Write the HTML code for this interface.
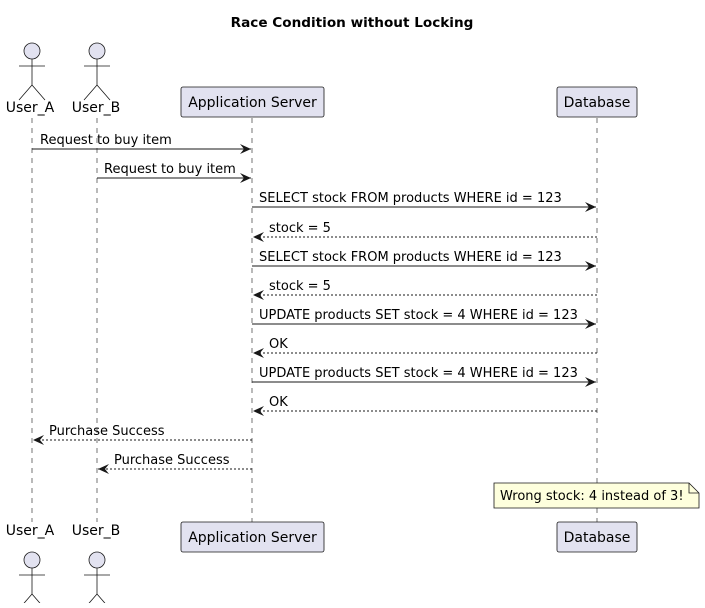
<!DOCTYPE html>
<html><head><style>body{margin:0;background:#fff}svg text{font-family:"DejaVu Sans","Liberation Sans",sans-serif;font-size:13px;fill:#000}</style></head>
<body>
<svg width="705" height="603" xmlns="http://www.w3.org/2000/svg">
<defs>
<marker id="a" markerWidth="12" markerHeight="10" refX="11" refY="5" orient="auto" markerUnits="userSpaceOnUse"><path d="M0,0 L11,5 L0,10 L4,5 Z" fill="#181818"/></marker>
</defs>
<text x="352" y="27" text-anchor="middle" style="font-weight:bold;font-size:13.6px">Race Condition without Locking</text>
<g stroke="#181818" stroke-width="0.6" stroke-dasharray="5,5">
<line x1="32" y1="118" x2="32" y2="522"/>
<line x1="97" y1="118" x2="97" y2="522"/>
<line x1="252" y1="118" x2="252" y2="522"/>
<line x1="597" y1="118" x2="597" y2="522"/>
</g>
<g fill="#E2E2F0" stroke="#181818" stroke-width="0.8">
<rect x="181" y="87" width="143" height="30" rx="2"/>
<rect x="557" y="87" width="80" height="30" rx="2"/>
<rect x="181" y="522" width="143" height="30" rx="2"/>
<rect x="557" y="522" width="80" height="30" rx="2"/>
</g>
<g style="font-size:14px">
<text x="252.5" y="107" text-anchor="middle" style="font-size:14px">Application Server</text>
<text x="597" y="107" text-anchor="middle" style="font-size:14px">Database</text>
<text x="252.5" y="542" text-anchor="middle" style="font-size:14px">Application Server</text>
<text x="597" y="542" text-anchor="middle" style="font-size:14px">Database</text>
<text x="30" y="112" text-anchor="middle" style="font-size:14px">User_A</text>
<text x="96" y="112" text-anchor="middle" style="font-size:14px">User_B</text>
<text x="30" y="535" text-anchor="middle" style="font-size:14px">User_A</text>
<text x="96" y="535" text-anchor="middle" style="font-size:14px">User_B</text>
</g>
<g fill="#E2E2F0" stroke="#181818" stroke-width="0.8">
<g id="act"><circle cx="32" cy="51" r="8"/><path d="M32,59 V85 M19,66 H45 M32,85 L19,100 M32,85 L45,100" fill="none"/></g>
<use href="#act" x="65"/>
<use href="#act" y="509"/>
<use href="#act" x="65" y="509"/>
</g>
<g stroke="#181818" stroke-width="1" fill="none">
<line x1="32" y1="149" x2="251" y2="149" marker-end="url(#a)"/>
<line x1="97" y1="178" x2="251" y2="178" marker-end="url(#a)"/>
<line x1="252" y1="207" x2="596" y2="207" marker-end="url(#a)"/>
<line x1="597" y1="237" x2="253" y2="237" stroke-dasharray="2,2" marker-end="url(#a)"/>
<line x1="252" y1="266" x2="596" y2="266" marker-end="url(#a)"/>
<line x1="597" y1="295" x2="253" y2="295" stroke-dasharray="2,2" marker-end="url(#a)"/>
<line x1="252" y1="324" x2="596" y2="324" marker-end="url(#a)"/>
<line x1="597" y1="353" x2="253" y2="353" stroke-dasharray="2,2" marker-end="url(#a)"/>
<line x1="252" y1="382" x2="596" y2="382" marker-end="url(#a)"/>
<line x1="597" y1="411" x2="253" y2="411" stroke-dasharray="2,2" marker-end="url(#a)"/>
<line x1="252" y1="440" x2="33" y2="440" stroke-dasharray="2,2" marker-end="url(#a)"/>
<line x1="252" y1="469" x2="98" y2="469" stroke-dasharray="2,2" marker-end="url(#a)"/>
</g>
<text x="40" y="144">Request to buy item</text>
<text x="104" y="173">Request to buy item</text>
<text x="259" y="202">SELECT stock FROM products WHERE id = 123</text>
<text x="269" y="232">stock = 5</text>
<text x="259" y="261">SELECT stock FROM products WHERE id = 123</text>
<text x="269" y="290">stock = 5</text>
<text x="259" y="319">UPDATE products SET stock = 4 WHERE id = 123</text>
<text x="269" y="348">OK</text>
<text x="259" y="377">UPDATE products SET stock = 4 WHERE id = 123</text>
<text x="269" y="406">OK</text>
<text x="49" y="435">Purchase Success</text>
<text x="114" y="464">Purchase Success</text>
<path d="M494,483 H689 L699,493 V508 H494 Z" fill="#FEFFDD" stroke="#181818" stroke-width="0.8"/>
<path d="M689,483 V493 H699" fill="none" stroke="#181818" stroke-width="0.8"/>
<text x="500" y="500">Wrong stock: 4 instead of 3!</text>
</svg>
</body></html>
